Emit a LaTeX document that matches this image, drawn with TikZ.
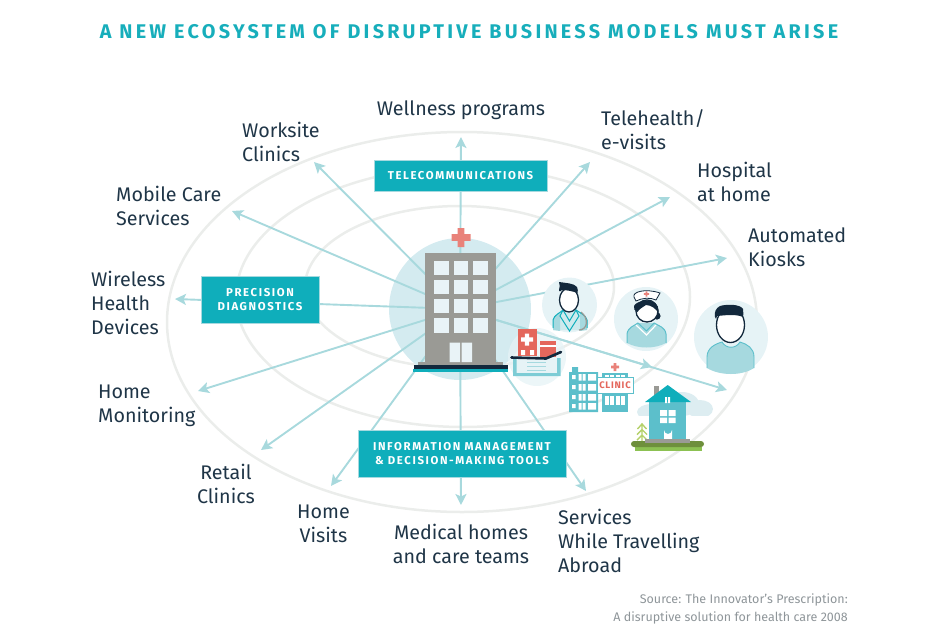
\documentclass[tikz,border=0pt]{standalone}
\usepackage{fontspec}
\setmainfont{Fira Sans}
\newfontfamily\ttlfont[LetterSpace=16.5]{Fira Sans}
\newfontfamily\boxfont[LetterSpace=14]{Fira Sans}
\newfontfamily\signfont[LetterSpace=8]{Fira Sans}
\usetikzlibrary{arrows.meta,shapes.geometric}
\definecolor{ttl}{HTML}{17AEBB}
\definecolor{boxc}{HTML}{0FAEBB}
\definecolor{linec}{HTML}{A8D9DD}
\definecolor{txt}{HTML}{1F3547}
\definecolor{ring}{HTML}{EBEDEB}
\definecolor{hubc}{HTML}{D4EBF0}
\definecolor{grey}{HTML}{9A9A95}
\definecolor{win}{HTML}{E9F3F7}
\definecolor{redc}{HTML}{E4675C}
\definecolor{crossc}{HTML}{E9827A}
\definecolor{navy}{HTML}{12283C}
\definecolor{pale}{HTML}{E6F3F6}
\definecolor{tealb}{HTML}{5CBFCB}
\definecolor{shirt}{HTML}{A6D9DF}
\definecolor{cloud}{HTML}{DDEDF1}
\definecolor{srcc}{HTML}{8E9599}
\definecolor{gdark}{HTML}{6E8F3C}
\definecolor{glight}{HTML}{8CC152}
\definecolor{gtree}{HTML}{B5D16B}
\tikzset{
 x=1pt,y=-1pt,
 lab/.style={font=\fontsize{19.7}{24}\selectfont,text=txt,inner sep=0pt},
 ringl/.style={draw=ring,line width=2.5pt},
 conn/.style={draw=linec,line width=1.9pt,-{Stealth[length=11pt,width=11pt,inset=2.5pt]}},
 boxn/.style={fill=boxc,draw=shirt,line width=.6pt,text=white,align=center,font=\boxfont\bfseries\fontsize{11.4}{14}\selectfont,inner sep=0pt},
 wndw/.style={fill=win,draw=none},
 headf/.style={fill=white,draw=navy,line width=1.3pt},
}
\newcommand{\crossat}[4]{\fill[#4] (#1-#3,#2-#3*.35) rectangle (#1+#3,#2+#3*.35) (#1-#3*.35,#2-#3) rectangle (#1+#3*.35,#2+#3);}
\begin{document}
\begin{tikzpicture}
\useasboundingbox (0,0) rectangle (927,638);
% rings
\draw[ringl] (462,322) ellipse [x radius=295,y radius=190];
\draw[ringl] (463,297) ellipse [x radius=227,y radius=130];
\draw[ringl] (459.5,287) ellipse [x radius=154.5,y radius=81];
% hub
\node[circle,fill=hubc,minimum size=142pt,inner sep=0pt] (hub) at (460,309) {};
\fill[pale,opacity=.75] (537,357) circle (29);
% tips
\coordinate (tWell) at (461,137);
\coordinate (tWork) at (314,162);
\coordinate (tMob) at (232,211);
\coordinate (tWire) at (175,299);
\coordinate (tMon) at (198,391);
\coordinate (tRet) at (261,450);
\coordinate (tVis) at (331,486);
\coordinate (tMed) at (461,505);
\coordinate (tSer) at (586,491);
\coordinate (tTel) at (590,162);
\coordinate (tHos) at (670,197);
\coordinate (tAut) at (727,258);
\coordinate (tCli) at (652,367);
\coordinate (tHom) at (727,390);
\foreach \t in {tWell,tWork,tMob,tWire,tMon,tRet,tVis,tMed,tSer,tTel,tHos,tAut,tCli,tHom}
  \draw[conn] (hub.center) -- (\t);
% title
\node[font=\ttlfont\bfseries\fontsize{19.8}{24}\selectfont,text=ttl,inner sep=0] (title) at (469,31.5) {A NEW ECOSYSTEM OF DISRUPTIVE BUSINESS MODELS MUST ARISE};
% boxes
\node[boxn,minimum width=173pt,minimum height=31pt] (bTel) at (460.5,175.5) {TELECOMMUNICATIONS};
\node[boxn,minimum width=118pt,minimum height=47pt] (bPre) at (260,299.5) {PRECISION\\DIAGNOSTICS};
\node[boxn,minimum width=208pt,minimum height=47pt] (bInf) at (462,453.5) {INFORMATION MANAGEMENT\\\& DECISION-MAKING TOOLS};
% labels
\node[lab] (lWell) at (461,110.5) {Wellness programs};
\node[lab,anchor=west,align=left] (lWork) at (242,142) {Worksite\\Clinics};
\node[lab,anchor=west,align=left] (lMob) at (116,206) {Mobile Care\\Services};
\node[lab,anchor=west,align=left] (lWire) at (91,303) {Wireless\\Health\\Devices};
\node[lab,anchor=west,align=left] (lMon) at (98,406) {Home\\Monitoring};
\node[lab,align=center] (lRet) at (226,484) {Retail\\Clinics};
\node[lab,align=center] (lVis) at (323.5,524) {Home\\Visits};
\node[lab,align=center] (lMed) at (461,544) {Medical homes\\and care teams};
\node[lab,anchor=west,align=left] (lSer) at (558,541) {Services\\While Travelling\\Abroad};
\node[lab,anchor=west,align=left] (lTel) at (601,130) {Telehealth/\\e-visits};
\node[lab,anchor=west,align=left] (lHos) at (697,182) {Hospital\\at home};
\node[lab,anchor=west,align=left] (lAut) at (748,247) {Automated\\Kiosks};
\node[anchor=east,align=right,font=\fontsize{12.5}{18}\selectfont,text=srcc,inner sep=0] (src) at (848,609) {Source: The Innovator’s Prescription:\\A disruptive solution for health care 2008};
% hospital
\crossat{461}{237.5}{9.5}{crossc}
\fill[grey] (418,362) rectangle (503,365);
\node[fill=grey,minimum width=71pt,minimum height=109pt,inner sep=0pt] (hosp) at (460.5,307.5) {};
\foreach \x in {434,453.7,473} \foreach \y in {260.7,279.7,299,318.3}
  \fill[wndw] (\x,\y) rectangle (\x+14.5,\y+14.4);
\fill[wndw] (449.5,342.5) rectangle (460,362) (461.5,342.5) rectangle (472,362);
\fill[navy] (414,365) rectangle (507.5,369);
\fill[boxc] (413,369) rectangle (507.5,372);
% bed
\fill[redc] (518,329) rectangle (536.7,356);
\crossat{527}{339.5}{6}{white}
\fill[white] (521,350) rectangle (525,355) (530,350) rectangle (534,355);
\fill[redc] (539.5,341) rectangle (556,357);
\fill[white] (539.5,345) rectangle (556,346.5);
\fill[pale] (516,359) rectangle (557,373);
\draw[shirt,line width=.6pt] (527,362)--(546,362) (527,366)--(546,366) (527,370)--(546,370);
\fill[tealb!80] (513,358) rectangle (516.5,376) (557,358) rectangle (560.5,376) (516,373) rectangle (557,376);
\draw[navy,line width=2.6pt,line cap=round] (511.5,357.5) -- (546,358.5) -- (561,352);
% doctor
\node[circle,fill=pale,minimum size=55pt,inner sep=0pt] (doc) at (569.5,305) {};
\fill[shirt!55!white] (553,330) -- (553,320) .. controls (554,315) and (560,313) .. (564,309) -- (575,309) .. controls (580,313) and (586,315) .. (587,320) -- (587,330) -- cycle;
\fill[shirt] (553,330) -- (553,320) .. controls (554,316) and (557,314) .. (560,313) -- (560,331) -- cycle (587,330) -- (587,320) .. controls (586,316) and (583,314) .. (580,313) -- (580,331) -- cycle;
\draw[boxc,line width=1pt] (553,328)--(553,320) .. controls (554,315) and (560,313) .. (563,310) -- (569.5,321) -- (576,310) .. controls (580,313) and (586,315) .. (587,320)--(587,328);
\draw[boxc,line width=1pt] (563,310)--(560,316)--(569.5,331)--(579,316)--(576,310);
\draw[grey,line width=1.3pt] (581,312) .. controls (589,318) and (588,330) .. (579,330);
\node[ellipse,headf,minimum width=19pt,minimum height=24pt,inner sep=0pt] (dh) at (569,300) {};
\fill[navy] (559,291) .. controls (559,287) and (561,285) .. (559,282) .. controls (565,283) and (574,283) .. (577,287) .. controls (578,289) and (578,291) .. (577.5,293) .. controls (572,291) and (566,290) .. (562,290) .. controls (560,291) and (560,292) .. cycle;
% nurse
\node[circle,fill=pale,minimum size=64pt,inner sep=0pt] (nur) at (646,319) {};
\fill[shirt] (627,343) -- (627,334) .. controls (628,327) and (634,326) .. (638,323) -- (654,323) .. controls (659,326) and (665,327) .. (666,334) -- (666,343) .. controls (655,349) and (638,349) .. (627,343) -- cycle;
\draw[tealb,line width=1pt] (627,343) -- (627,334) .. controls (628,327) and (634,326) .. (638,323) -- (646.5,331) -- (654,323) .. controls (659,326) and (665,327) .. (666,334) -- (666,343);
\draw[white,line width=1.2pt] (636,325) -- (646.5,335) -- (656,325);
\fill[navy] (657,316) circle (3.6);
\node[ellipse,headf,minimum width=22pt,minimum height=22pt,inner sep=0pt] (nh) at (647,311) {};
\fill[navy] (634,306) .. controls (636,301) and (650,298) .. (656,304) .. controls (659,308) and (658.5,312) .. (658.5,314) .. controls (657,309) and (651,305) .. (646,305) .. controls (643,307) and (639,309) .. (637.5,312) .. controls (635,311) and (633,309) .. cycle;
\fill[white] (634,297) .. controls (632,292) and (645,288) .. (660,293) -- (656,300) .. controls (650,297) and (642,298) .. (636,301) -- cycle;
\draw[navy,line width=.8pt] (634,297) .. controls (632,292) and (645,288) .. (660,293) -- (656,300) .. controls (650,297) and (642,298) .. (636,301) -- cycle;
\crossat{646.5}{294}{2.6}{crossc}
% patient
\node[circle,fill=pale,minimum size=74pt,inner sep=0pt] (pat) at (731,337) {};
\fill[shirt] (707,368) -- (707,357) .. controls (707,348) and (715,344) .. (722,342) .. controls (726,349) and (736,349) .. (740,342) .. controls (747,344) and (754,348) .. (754,357) -- (754,368) .. controls (742,376) and (720,376) .. (707,368) -- cycle;
\draw[tealb,line width=.9pt] (707,368) -- (707,357) .. controls (707,348) and (715,344) .. (722,342) .. controls (726,349) and (736,349) .. (740,342) .. controls (747,344) and (754,348) .. (754,357) -- (754,368);
\node[ellipse,headf,minimum width=28pt,minimum height=35pt,inner sep=0pt] (ph) at (730.5,325) {};
\fill[navy] (715,317) .. controls (714,312) and (716,308) .. (720,306) .. controls (727,304) and (740,304) .. (743,309) .. controls (744,312) and (743,316) .. (743,317) .. controls (736,314) and (727,315) .. (717,316) -- (716,319) -- cycle;
% clinic
\fill[tealb] (569,372) rectangle (598,412) (572,367) rectangle (578,372);
\fill[tealb] (602,373) rectangle (628,412);
\foreach \y in {374,384,394,403}{\fill[white] (572,\y+1) rectangle (575.5,\y+5) (578.5,\y) rectangle (581.5,\y+6.5) (582.5,\y) rectangle (585.5,\y+6.5) (588,\y) rectangle (596,\y+6.5);}
\foreach \x in {605,610,615.5,621}{\fill[white] (\x,395.5) rectangle (\x+4,405);}
\foreach \x in {605,610,615.5,621}{\fill[white] (\x,375) rectangle (\x+4,377);}
\crossat{615}{367}{4}{crossc}
\node[fill=white,draw=tealb,line width=1pt,text=redc,minimum width=36pt,minimum height=15.5pt,inner sep=0pt,font=\signfont\bfseries\fontsize{9.5}{10}\selectfont] (sign) at (615,385.5) {CLINIC};
% house
\begin{scope}
\clip (630,385) rectangle (720,415);
\fill[cloud] (652,412) ellipse [x radius=15,y radius=8] (682,404) ellipse [x radius=17,y radius=12] (700,409) ellipse [x radius=13,y radius=9];
\end{scope}
\fill[grey] (654,386) rectangle (659,395);
\fill[tealb] (649,402) rectangle (686,441);
\fill[boxc] (667.7,385) -- (691,402) -- (645,402) -- cycle;
\fill[white] (665,397) rectangle (667,403) (668,397) rectangle (670,403);
\fill[white] (660,410) rectangle (667,416) (668.5,410) rectangle (675.5,416) (660,417.5) rectangle (667,423) (668.5,417.5) rectangle (675.5,423);
\fill[white] (664,440) -- (664,430) arc[start angle=180,end angle=0,radius=4] -- (672,440) -- cycle;
\draw[gtree,line width=1.4pt] (642,423)--(642,441) (637.5,429)--(642,424)--(646.5,429) (637,434.5)--(642,429.5)--(647,434.5) (637,440)--(642,435)--(647,440);
\fill[glight] (635,447) rectangle (702,451);
\fill[gdark,rounded corners=3pt] (631,441) rectangle (704,447);
\fill[grey] (645,439) rectangle (690,443);
\end{tikzpicture}
\end{document}
